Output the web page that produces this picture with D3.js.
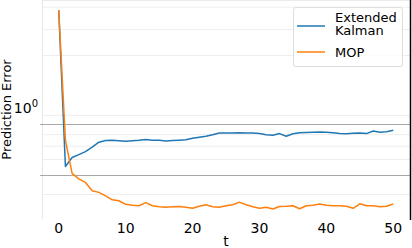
<!DOCTYPE html>
<html><head><meta charset="utf-8">
<script src="https://cdn.jsdelivr.net/npm/d3@7"></script>
<style>body{margin:0;background:#fff}svg{display:block}text{font-family:"DejaVu Sans",sans-serif;fill:#000}</style>
</head><body><svg id="c" width="412" height="248"></svg>
<script>
const t = d3.range(0, 51);
const kalman = [3.39,0.553,0.614,0.635,0.657,0.692,0.733,0.747,0.750,0.746,0.741,0.746,0.750,0.756,0.750,0.750,0.744,0.747,0.750,0.754,0.767,0.776,0.785,0.799,0.816,0.816,0.816,0.818,0.816,0.816,0.810,0.799,0.794,0.810,0.785,0.808,0.818,0.820,0.822,0.825,0.822,0.818,0.810,0.808,0.813,0.816,0.810,0.835,0.822,0.827,0.841];
const mop = [3.39,0.750,0.511,0.479,0.460,0.418,0.410,0.394,0.376,0.372,0.357,0.353,0.351,0.364,0.351,0.347,0.345,0.347,0.348,0.345,0.341,0.349,0.355,0.347,0.345,0.351,0.355,0.366,0.355,0.347,0.341,0.345,0.338,0.348,0.349,0.351,0.339,0.351,0.353,0.358,0.353,0.351,0.351,0.349,0.341,0.359,0.351,0.351,0.347,0.349,0.358];
const xTicks = [0,10,20,30,40,50];
const darkGrid = [0.9, 0.5];
const lightGrid = [0.4,0.6,0.7,0.8,1,2,2.7,3.5];
const yLabelTick = 1;
const seriesNames = ["Extended\nKalman","MOP"];
const colors = ["#1f77b4","#ff7f0e"];

const L=42,R=410,T=0,B=219;
const svg=d3.select("#c");
const x=d3.scaleLinear().domain([-2.5,52.5]).range([L,R]);
const lmin=Math.log10(d3.min(mop)), lmax=Math.log10(d3.max(mop));
const pad=(lmax-lmin)*0.05;
const y=d3.scaleLog().domain([Math.pow(10,lmin-pad),Math.pow(10,lmax+pad)]).range([B,T]);

const g=svg.append("g");
g.selectAll(".lg").data(lightGrid).enter().append("line")
 .attr("x1",L).attr("x2",R).attr("y1",d=>y(d)).attr("y2",d=>y(d))
 .attr("stroke","#eeeeee").attr("stroke-width",1);
g.append("line").attr("x1",L).attr("x2",R).attr("y1",T+0.5).attr("y2",T+0.5).attr("stroke","#ebebeb");
g.append("line").attr("x1",L+0.5).attr("x2",L+0.5).attr("y1",T).attr("y2",B).attr("stroke","#e6e6e6");
g.selectAll(".dg").data(darkGrid).enter().append("line")
 .attr("x1",L-2).attr("x2",R).attr("y1",d=>Math.round(y(d))+0.5).attr("y2",d=>Math.round(y(d))+0.5)
 .attr("stroke","#a8a8a8").attr("stroke-width",1);
svg.append("line").attr("x1",R+0.5).attr("x2",R+0.5).attr("y1",0).attr("y2",B+1).attr("stroke","#000").attr("stroke-width",1.5);

const line=d3.line().x((d,i)=>x(t[i])).y(d=>y(d));
[kalman,mop].forEach((s,k)=>{
  svg.append("path").attr("d",line(s)).attr("fill","none").attr("stroke",colors[k]).attr("stroke-width",1.5).attr("stroke-linejoin","round");
});

// x tick labels
svg.selectAll(".xt").data(xTicks).enter().append("text")
 .attr("x",d=>x(d)).attr("y",233).attr("text-anchor","middle").attr("font-size",14).text(d=>d);
svg.append("text").attr("x",(L+R)/2).attr("y",246).attr("text-anchor","middle").attr("font-size",14).text("t");
// y tick label
const yl=svg.append("text").attr("x",38).attr("y",y(yLabelTick)-2).attr("text-anchor","end").attr("font-size",14);
yl.append("tspan").text("10");
yl.append("tspan").attr("dy",-6).attr("font-size",10).text("0");
svg.append("text").attr("transform",`translate(11,${(T+B)/2}) rotate(-90)`).attr("text-anchor","middle").attr("font-size",13).text("Prediction Error");

// legend
const lg=svg.append("g");
lg.append("rect").attr("x",293.5).attr("y",7.5).attr("width",109).attr("height",59).attr("rx",2.5)
 .attr("fill","#fff").attr("fill-opacity",0.8).attr("stroke","#dddddd");
const rows=[{ly:26,ty:[21.5,35]},{ly:52,ty:[57]}];
seriesNames.forEach((n,k)=>{
  lg.append("line").attr("x1",297).attr("x2",325).attr("y1",rows[k].ly).attr("y2",rows[k].ly).attr("stroke",colors[k]).attr("stroke-width",1.5);
  n.split("\n").forEach((s,j)=>lg.append("text").attr("x",335).attr("y",rows[k].ty[j]).attr("font-size",13).text(s));
});
</script></body></html>
